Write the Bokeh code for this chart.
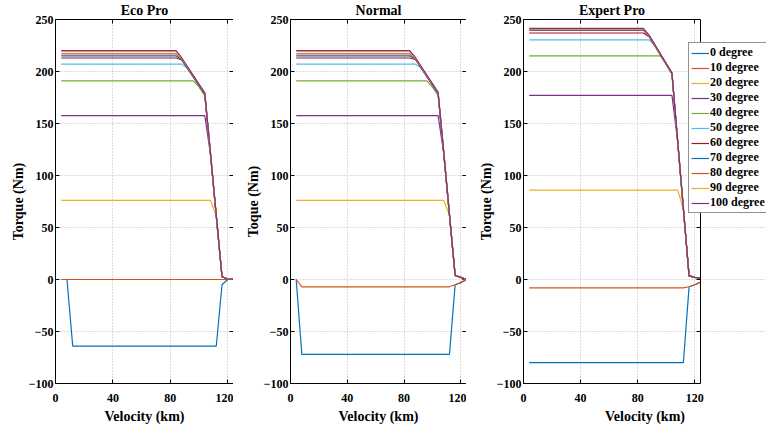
from bokeh.plotting import figure
from bokeh.layouts import row
from bokeh.models import Range1d, FixedTicker, LinearAxis, Legend, LegendItem, Label, Span
from bokeh.embed import file_html
from bokeh.resources import INLINE

FONT = "Liberation Serif"

degrees = [0, 10, 20, 30, 40, 50, 60, 70, 80, 90, 100]
legend_labels = [f"{d} degree" for d in degrees]
colors = ["#0072BD", "#D95319", "#EDB120", "#7E2F8E", "#77AC30", "#4DBEEE",
          "#A2142F", "#0072BD", "#D95319", "#EDB120", "#7E2F8E"]

panel_titles = ["Eco Pro", "Normal", "Expert Pro"]
y_titles = ["Torque (Nm)", "Toque (Nm)", "Torque (Nm)"]
x_title = "Velocity (km)"
x_ticks = [0, 40, 80, 120]
y_ticks = [-100, -50, 0, 50, 100, 150, 200, 250]

# ---- Eco Pro: breakpoints (velocity, torque) per series ----
eco_x = [
    [4, 8, 12, 112, 116, 120, 124],
    [4, 124],
    [4, 108, 112, 116, 120, 124],
    [4, 104, 108, 112, 116, 120, 124],
    [4, 96, 100, 104, 108, 112, 116, 120, 124],
    [4, 88, 92, 104, 108, 112, 116, 120, 124],
    [4, 84, 88, 104, 108, 112, 116, 120, 124],
    [4, 84, 88, 104, 108, 112, 116, 120, 124],
    [4, 84, 88, 104, 108, 112, 116, 120, 124],
    [4, 84, 88, 104, 108, 112, 116, 120, 124],
    [4, 84, 88, 104, 108, 112, 116, 120, 124],
]
eco_y = [
    [0, 0, -64, -64, -5, 0, 0],
    [0, 0],
    [76, 76, 61, 2.6, 0.5, 0],
    [157.5, 157.5, 120, 61, 2.6, 0.5, 0],
    [191, 191, 185, 176.5, 119, 60.5, 2.6, 0.5, 0],
    [207, 207, 203, 178, 120, 61, 2.6, 0.5, 0],
    [213, 213, 211, 178.5, 120, 61, 2.6, 0.5, 0],
    [215, 215, 211.5, 178.8, 120.5, 61, 2.6, 0.5, 0],
    [217, 217, 212, 179, 121, 61.5, 2.6, 0.5, 0],
    [219, 219, 212.5, 179.3, 121, 61.5, 2.6, 0.5, 0],
    [220, 220, 213, 179.5, 121.5, 62, 2.6, 0.5, 0],
]

# ---- Normal ----
normal_x = [
    [4, 8, 112, 116, 120, 124],
    [4, 8, 112, 116, 120, 124],
    [4, 108, 112, 116, 120, 124],
    [4, 104, 108, 112, 116, 120, 124],
    [4, 96, 100, 104, 108, 112, 116, 120, 124],
    [4, 88, 92, 104, 108, 112, 116, 120, 124],
    [4, 84, 88, 104, 108, 112, 116, 120, 124],
    [4, 84, 88, 104, 108, 112, 116, 120, 124],
    [4, 84, 88, 104, 108, 112, 116, 120, 124],
    [4, 84, 88, 104, 108, 112, 116, 120, 124],
    [4, 84, 88, 104, 108, 112, 116, 120, 124],
]
normal_y = [
    [0, -72, -72, -5, -3, 0],
    [0, -7, -7, -5, -3, 0],
    [76, 76, 62, 3.8, 2, 0],
    [157.5, 157.5, 121, 62, 3.8, 2, 0],
    [191, 191, 185, 177, 120, 61.5, 3.8, 2, 0],
    [207, 207, 203.5, 178.5, 121, 62, 3.8, 2, 0],
    [213, 213, 211.5, 179, 121, 62, 3.8, 2, 0],
    [215, 215, 212, 179.3, 121.5, 62, 3.8, 2, 0],
    [217, 217, 212.5, 179.5, 122, 62.5, 3.8, 2, 0],
    [219, 219, 213, 179.8, 122, 62.5, 3.8, 2, 0],
    [220, 220, 213.5, 180, 122.5, 63, 3.8, 2, 0],
]

# ---- Expert Pro ----
expert_x = [
    [4, 112, 116, 120, 124],
    [4, 112, 116, 120, 124],
    [4, 108, 112, 116, 120, 124],
    [4, 104, 108, 112, 116, 120, 124],
    [4, 96, 100, 104, 108, 112, 116, 120, 124],
    [4, 88, 92, 104, 108, 112, 116, 120, 124],
    [4, 84, 88, 104, 108, 112, 116, 120, 124],
    [4, 84, 88, 104, 108, 112, 116, 120, 124],
    [4, 84, 88, 104, 108, 112, 116, 120, 124],
    [4, 84, 88, 104, 108, 112, 116, 120, 124],
    [4, 84, 88, 104, 108, 112, 116, 120, 124],
]
expert_y = [
    [-80, -80, -7, -5, -2.5],
    [-8, -8, -7, -5, -2.5],
    [86, 86, 68, 3.5, 2, 1.5],
    [177, 177, 133, 68, 3.5, 2, 1.5],
    [215, 215, 207, 197.5, 132.5, 68, 3.5, 2, 1.5],
    [230.5, 230.5, 225, 198, 133, 68, 3.5, 2, 1.5],
    [237, 237, 233.5, 198, 133, 68, 3.5, 2, 1.5],
    [239.5, 239.5, 234, 198.2, 133, 68.2, 3.5, 2, 1.5],
    [240, 240, 234, 198.3, 133.2, 68.3, 3.5, 2, 1.5],
    [241, 241, 234.5, 198.5, 133.3, 68.4, 3.5, 2, 1.5],
    [241.5, 241.5, 235, 198.7, 133.5, 68.5, 3.5, 2, 1.5],
]

X_MIN, X_MAX = 0, 124
Y_MIN, Y_MAX = -100, 250
FRAME_H = 364
TICK_LEN = 4


def style_axis(ax, kind):
    ax.axis_line_color = "black"
    ax.axis_line_width = 1
    ax.major_tick_line_color = "black"
    ax.major_tick_in = TICK_LEN
    ax.major_tick_out = 0
    ax.minor_tick_line_color = None
    ax.major_label_text_font = FONT
    ax.major_label_text_font_style = "bold"
    if kind == "none":
        ax.major_label_text_font_size = "0px"
        ax.major_label_text_color = None
        ax.major_label_standoff = 0
        return
    ax.major_label_text_color = "black"
    ax.major_label_text_font_size = "12px"
    ax.axis_label_text_font = FONT
    ax.axis_label_text_font_style = "bold"
    ax.axis_label_text_font_size = "14px"
    ax.axis_label_text_color = "black"
    if kind == "x":
        ax.major_label_standoff = 10
        ax.axis_label_standoff = 4
    else:
        ax.major_label_standoff = 2
        ax.axis_label_standoff = 0


def make_panel(title, ytitle, xs, ys, box_w, left, extra_w=0, with_legend=False):
    # box_w: pixel width of the boxed axes; extra_w: extra room to the right
    frame_w = box_w + extra_w
    x_end = X_MAX * frame_w / box_w
    p = figure(frame_width=frame_w, frame_height=FRAME_H,
               x_range=Range1d(X_MIN, x_end), y_range=Range1d(Y_MIN, Y_MAX),
               min_border_left=left, min_border_right=0,
               min_border_top=19, min_border_bottom=44,
               output_backend="svg", toolbar_location=None,
               background_fill_color="white", border_fill_color="white")
    p.outline_line_color = None

    p.xaxis.ticker = FixedTicker(ticks=x_ticks)
    p.yaxis.ticker = FixedTicker(ticks=y_ticks)
    p.xaxis.axis_label = x_title
    p.yaxis.axis_label = ytitle
    p.xaxis.bounds = (X_MIN, X_MAX)
    style_axis(p.xaxis[0], "x")
    style_axis(p.yaxis[0], "y")

    ta = LinearAxis(ticker=FixedTicker(ticks=x_ticks), bounds=(X_MIN, X_MAX))
    style_axis(ta, "none")
    p.add_layout(ta, "above")

    # right edge of the box with inward ticks
    p.add_layout(Span(location=X_MAX, dimension="height",
                      line_color="black", line_width=1))
    tick_dx = TICK_LEN * X_MAX / box_w
    p.segment(x0=[X_MAX] * len(y_ticks), x1=[X_MAX - tick_dx] * len(y_ticks),
              y0=y_ticks, y1=y_ticks, line_color="black", line_width=1)

    p.xgrid[0].bounds = (Y_MIN, Y_MAX)
    p.ygrid[0].bounds = (X_MIN, X_MAX)
    for g in (p.xgrid[0], p.ygrid[0]):
        g.grid_line_color = "#b8b8b8"
        g.grid_line_dash = "1 2"
        g.grid_line_width = 1

    renderers = []
    for i in range(len(degrees)):
        r = p.line(xs[i], ys[i], line_color=colors[i], line_width=1.2)
        renderers.append(r)

    p.add_layout(Label(x=(X_MIN + X_MAX) / 2, y=9, y_units="screen", text=title,
                       text_align="center", text_baseline="alphabetic",
                       text_font=FONT, text_font_style="bold",
                       text_font_size="14px", text_color="black"), "above")

    if with_legend:
        items = [LegendItem(label=legend_labels[i], renderers=[renderers[i]])
                 for i in range(len(degrees))]
        leg = Legend(items=items, location=(165, 170))
        leg.label_text_font = FONT
        leg.label_text_font_style = "bold"
        leg.label_text_font_size = "12px"
        leg.label_text_color = "black"
        leg.glyph_width = 18
        leg.glyph_height = 14
        leg.label_height = 14
        leg.spacing = -1
        leg.padding = 2
        leg.margin = 0
        leg.label_standoff = 1
        leg.border_line_color = "#262626"
        leg.border_line_width = 1
        leg.background_fill_color = "white"
        leg.background_fill_alpha = 1
        p.add_layout(leg)
    return p


p1 = make_panel(panel_titles[0], y_titles[0], eco_x, eco_y, 178, 55)
p2 = make_panel(panel_titles[1], y_titles[1], normal_x, normal_y, 176, 57)
p3 = make_panel(panel_titles[2], y_titles[2], expert_x, expert_y, 177, 57,
                extra_w=66, with_legend=True)

p = row(p1, p2, p3)
open("out.html", "w").write(file_html(p, INLINE))
